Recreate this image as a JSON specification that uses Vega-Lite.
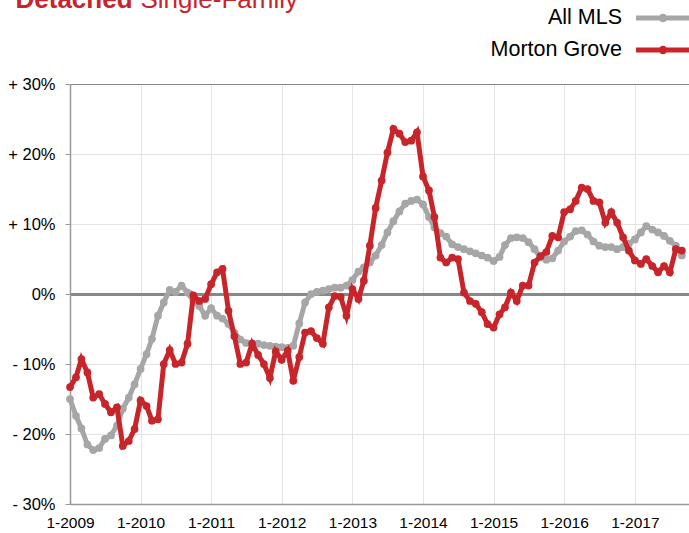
{
  "$schema": "https://vega.github.io/schema/vega-lite/v6.json",
  "width": 619,
  "height": 420,
  "autosize": "none",
  "padding": {"left": 70, "top": 84, "right": 0, "bottom": 29},
  "background": "white",
  "config": {"view": {"stroke": null}, "font": "Liberation Sans"},
  "data": {"values": [
    {"series":"All MLS","month":"2009/01/01","change":-15.0},
    {"series":"All MLS","month":"2009/02/01","change":-17.4},
    {"series":"All MLS","month":"2009/03/01","change":-19.2},
    {"series":"All MLS","month":"2009/04/01","change":-21.5},
    {"series":"All MLS","month":"2009/05/01","change":-22.3},
    {"series":"All MLS","month":"2009/06/01","change":-22.0},
    {"series":"All MLS","month":"2009/07/01","change":-20.7},
    {"series":"All MLS","month":"2009/08/01","change":-20.2},
    {"series":"All MLS","month":"2009/09/01","change":-18.8},
    {"series":"All MLS","month":"2009/10/01","change":-16.4},
    {"series":"All MLS","month":"2009/11/01","change":-14.8},
    {"series":"All MLS","month":"2009/12/01","change":-12.9},
    {"series":"All MLS","month":"2010/01/01","change":-10.7},
    {"series":"All MLS","month":"2010/02/01","change":-8.6},
    {"series":"All MLS","month":"2010/03/01","change":-6.4},
    {"series":"All MLS","month":"2010/04/01","change":-3.1},
    {"series":"All MLS","month":"2010/05/01","change":-1.2},
    {"series":"All MLS","month":"2010/06/01","change":0.6},
    {"series":"All MLS","month":"2010/07/01","change":0.3},
    {"series":"All MLS","month":"2010/08/01","change":1.2},
    {"series":"All MLS","month":"2010/09/01","change":0.2},
    {"series":"All MLS","month":"2010/10/01","change":-1.0},
    {"series":"All MLS","month":"2010/11/01","change":-1.7},
    {"series":"All MLS","month":"2010/12/01","change":-3.1},
    {"series":"All MLS","month":"2011/01/01","change":-2.0},
    {"series":"All MLS","month":"2011/02/01","change":-3.1},
    {"series":"All MLS","month":"2011/03/01","change":-3.5},
    {"series":"All MLS","month":"2011/04/01","change":-4.3},
    {"series":"All MLS","month":"2011/05/01","change":-5.5},
    {"series":"All MLS","month":"2011/06/01","change":-6.5},
    {"series":"All MLS","month":"2011/07/01","change":-7.0},
    {"series":"All MLS","month":"2011/08/01","change":-7.1},
    {"series":"All MLS","month":"2011/09/01","change":-7.1},
    {"series":"All MLS","month":"2011/10/01","change":-7.3},
    {"series":"All MLS","month":"2011/11/01","change":-7.4},
    {"series":"All MLS","month":"2011/12/01","change":-7.5},
    {"series":"All MLS","month":"2012/01/01","change":-7.6},
    {"series":"All MLS","month":"2012/02/01","change":-7.7},
    {"series":"All MLS","month":"2012/03/01","change":-7.4},
    {"series":"All MLS","month":"2012/04/01","change":-4.2},
    {"series":"All MLS","month":"2012/05/01","change":-1.2},
    {"series":"All MLS","month":"2012/06/01","change":0.0},
    {"series":"All MLS","month":"2012/07/01","change":0.3},
    {"series":"All MLS","month":"2012/08/01","change":0.5},
    {"series":"All MLS","month":"2012/09/01","change":0.7},
    {"series":"All MLS","month":"2012/10/01","change":0.9},
    {"series":"All MLS","month":"2012/11/01","change":0.9},
    {"series":"All MLS","month":"2012/12/01","change":1.2},
    {"series":"All MLS","month":"2013/01/01","change":2.0},
    {"series":"All MLS","month":"2013/02/01","change":3.2},
    {"series":"All MLS","month":"2013/03/01","change":3.8},
    {"series":"All MLS","month":"2013/04/01","change":4.5},
    {"series":"All MLS","month":"2013/05/01","change":5.5},
    {"series":"All MLS","month":"2013/06/01","change":7.0},
    {"series":"All MLS","month":"2013/07/01","change":8.8},
    {"series":"All MLS","month":"2013/08/01","change":10.4},
    {"series":"All MLS","month":"2013/09/01","change":11.8},
    {"series":"All MLS","month":"2013/10/01","change":12.9},
    {"series":"All MLS","month":"2013/11/01","change":13.3},
    {"series":"All MLS","month":"2013/12/01","change":13.5},
    {"series":"All MLS","month":"2014/01/01","change":12.8},
    {"series":"All MLS","month":"2014/02/01","change":11.0},
    {"series":"All MLS","month":"2014/03/01","change":9.5},
    {"series":"All MLS","month":"2014/04/01","change":8.7},
    {"series":"All MLS","month":"2014/05/01","change":8.2},
    {"series":"All MLS","month":"2014/06/01","change":7.1},
    {"series":"All MLS","month":"2014/07/01","change":6.7},
    {"series":"All MLS","month":"2014/08/01","change":6.4},
    {"series":"All MLS","month":"2014/09/01","change":6.1},
    {"series":"All MLS","month":"2014/10/01","change":5.8},
    {"series":"All MLS","month":"2014/11/01","change":5.5},
    {"series":"All MLS","month":"2014/12/01","change":5.2},
    {"series":"All MLS","month":"2015/01/01","change":4.7},
    {"series":"All MLS","month":"2015/02/01","change":5.3},
    {"series":"All MLS","month":"2015/03/01","change":7.0},
    {"series":"All MLS","month":"2015/04/01","change":8.0},
    {"series":"All MLS","month":"2015/05/01","change":8.1},
    {"series":"All MLS","month":"2015/06/01","change":8.0},
    {"series":"All MLS","month":"2015/07/01","change":7.4},
    {"series":"All MLS","month":"2015/08/01","change":6.4},
    {"series":"All MLS","month":"2015/09/01","change":5.2},
    {"series":"All MLS","month":"2015/10/01","change":4.9},
    {"series":"All MLS","month":"2015/11/01","change":5.1},
    {"series":"All MLS","month":"2015/12/01","change":6.2},
    {"series":"All MLS","month":"2016/01/01","change":7.5},
    {"series":"All MLS","month":"2016/02/01","change":8.2},
    {"series":"All MLS","month":"2016/03/01","change":9.0},
    {"series":"All MLS","month":"2016/04/01","change":9.1},
    {"series":"All MLS","month":"2016/05/01","change":8.5},
    {"series":"All MLS","month":"2016/06/01","change":7.5},
    {"series":"All MLS","month":"2016/07/01","change":6.9},
    {"series":"All MLS","month":"2016/08/01","change":6.7},
    {"series":"All MLS","month":"2016/09/01","change":6.7},
    {"series":"All MLS","month":"2016/10/01","change":6.4},
    {"series":"All MLS","month":"2016/11/01","change":6.7},
    {"series":"All MLS","month":"2016/12/01","change":7.2},
    {"series":"All MLS","month":"2017/01/01","change":7.8},
    {"series":"All MLS","month":"2017/02/01","change":8.8},
    {"series":"All MLS","month":"2017/03/01","change":9.7},
    {"series":"All MLS","month":"2017/04/01","change":9.2},
    {"series":"All MLS","month":"2017/05/01","change":8.8},
    {"series":"All MLS","month":"2017/06/01","change":8.3},
    {"series":"All MLS","month":"2017/07/01","change":7.6},
    {"series":"All MLS","month":"2017/08/01","change":6.9},
    {"series":"All MLS","month":"2017/09/01","change":5.5},
    {"series":"Morton Grove","month":"2009/01/01","change":-13.3},
    {"series":"Morton Grove","month":"2009/02/01","change":-11.9},
    {"series":"Morton Grove","month":"2009/03/01","change":-9.3},
    {"series":"Morton Grove","month":"2009/04/01","change":-11.2},
    {"series":"Morton Grove","month":"2009/05/01","change":-14.8},
    {"series":"Morton Grove","month":"2009/06/01","change":-14.3},
    {"series":"Morton Grove","month":"2009/07/01","change":-15.7},
    {"series":"Morton Grove","month":"2009/08/01","change":-16.9},
    {"series":"Morton Grove","month":"2009/09/01","change":-16.2},
    {"series":"Morton Grove","month":"2009/10/01","change":-21.7},
    {"series":"Morton Grove","month":"2009/11/01","change":-21.0},
    {"series":"Morton Grove","month":"2009/12/01","change":-19.3},
    {"series":"Morton Grove","month":"2010/01/01","change":-15.2},
    {"series":"Morton Grove","month":"2010/02/01","change":-16.0},
    {"series":"Morton Grove","month":"2010/03/01","change":-18.1},
    {"series":"Morton Grove","month":"2010/04/01","change":-17.9},
    {"series":"Morton Grove","month":"2010/05/01","change":-10.0},
    {"series":"Morton Grove","month":"2010/06/01","change":-8.0},
    {"series":"Morton Grove","month":"2010/07/01","change":-10.0},
    {"series":"Morton Grove","month":"2010/08/01","change":-9.8},
    {"series":"Morton Grove","month":"2010/09/01","change":-7.1},
    {"series":"Morton Grove","month":"2010/10/01","change":-0.2},
    {"series":"Morton Grove","month":"2010/11/01","change":-1.0},
    {"series":"Morton Grove","month":"2010/12/01","change":-0.7},
    {"series":"Morton Grove","month":"2011/01/01","change":1.4},
    {"series":"Morton Grove","month":"2011/02/01","change":3.1},
    {"series":"Morton Grove","month":"2011/03/01","change":3.6},
    {"series":"Morton Grove","month":"2011/04/01","change":-2.4},
    {"series":"Morton Grove","month":"2011/05/01","change":-6.0},
    {"series":"Morton Grove","month":"2011/06/01","change":-10.0},
    {"series":"Morton Grove","month":"2011/07/01","change":-9.8},
    {"series":"Morton Grove","month":"2011/08/01","change":-7.1},
    {"series":"Morton Grove","month":"2011/09/01","change":-8.7},
    {"series":"Morton Grove","month":"2011/10/01","change":-10.0},
    {"series":"Morton Grove","month":"2011/11/01","change":-12.0},
    {"series":"Morton Grove","month":"2011/12/01","change":-8.2},
    {"series":"Morton Grove","month":"2012/01/01","change":-9.4},
    {"series":"Morton Grove","month":"2012/02/01","change":-8.1},
    {"series":"Morton Grove","month":"2012/03/01","change":-12.4},
    {"series":"Morton Grove","month":"2012/04/01","change":-9.0},
    {"series":"Morton Grove","month":"2012/05/01","change":-5.5},
    {"series":"Morton Grove","month":"2012/06/01","change":-5.3},
    {"series":"Morton Grove","month":"2012/07/01","change":-6.3},
    {"series":"Morton Grove","month":"2012/08/01","change":-7.1},
    {"series":"Morton Grove","month":"2012/09/01","change":-1.9},
    {"series":"Morton Grove","month":"2012/10/01","change":-0.3},
    {"series":"Morton Grove","month":"2012/11/01","change":-0.4},
    {"series":"Morton Grove","month":"2012/12/01","change":-3.1},
    {"series":"Morton Grove","month":"2013/01/01","change":0.7},
    {"series":"Morton Grove","month":"2013/02/01","change":-0.7},
    {"series":"Morton Grove","month":"2013/03/01","change":1.9},
    {"series":"Morton Grove","month":"2013/04/01","change":6.9},
    {"series":"Morton Grove","month":"2013/05/01","change":12.3},
    {"series":"Morton Grove","month":"2013/06/01","change":16.2},
    {"series":"Morton Grove","month":"2013/07/01","change":20.2},
    {"series":"Morton Grove","month":"2013/08/01","change":23.6},
    {"series":"Morton Grove","month":"2013/09/01","change":22.9},
    {"series":"Morton Grove","month":"2013/10/01","change":21.7},
    {"series":"Morton Grove","month":"2013/11/01","change":21.9},
    {"series":"Morton Grove","month":"2013/12/01","change":23.1},
    {"series":"Morton Grove","month":"2014/01/01","change":16.8},
    {"series":"Morton Grove","month":"2014/02/01","change":14.8},
    {"series":"Morton Grove","month":"2014/03/01","change":11.0},
    {"series":"Morton Grove","month":"2014/04/01","change":5.2},
    {"series":"Morton Grove","month":"2014/05/01","change":4.5},
    {"series":"Morton Grove","month":"2014/06/01","change":5.2},
    {"series":"Morton Grove","month":"2014/07/01","change":5.0},
    {"series":"Morton Grove","month":"2014/08/01","change":0.2},
    {"series":"Morton Grove","month":"2014/09/01","change":-1.0},
    {"series":"Morton Grove","month":"2014/10/01","change":-1.4},
    {"series":"Morton Grove","month":"2014/11/01","change":-2.6},
    {"series":"Morton Grove","month":"2014/12/01","change":-4.3},
    {"series":"Morton Grove","month":"2015/01/01","change":-4.8},
    {"series":"Morton Grove","month":"2015/02/01","change":-2.9},
    {"series":"Morton Grove","month":"2015/03/01","change":-1.9},
    {"series":"Morton Grove","month":"2015/04/01","change":0.2},
    {"series":"Morton Grove","month":"2015/05/01","change":-1.0},
    {"series":"Morton Grove","month":"2015/06/01","change":1.2},
    {"series":"Morton Grove","month":"2015/07/01","change":1.2},
    {"series":"Morton Grove","month":"2015/08/01","change":4.5},
    {"series":"Morton Grove","month":"2015/09/01","change":5.4},
    {"series":"Morton Grove","month":"2015/10/01","change":6.0},
    {"series":"Morton Grove","month":"2015/11/01","change":8.3},
    {"series":"Morton Grove","month":"2015/12/01","change":8.1},
    {"series":"Morton Grove","month":"2016/01/01","change":11.7},
    {"series":"Morton Grove","month":"2016/02/01","change":12.1},
    {"series":"Morton Grove","month":"2016/03/01","change":13.3},
    {"series":"Morton Grove","month":"2016/04/01","change":15.2},
    {"series":"Morton Grove","month":"2016/05/01","change":15.0},
    {"series":"Morton Grove","month":"2016/06/01","change":13.3},
    {"series":"Morton Grove","month":"2016/07/01","change":13.1},
    {"series":"Morton Grove","month":"2016/08/01","change":10.2},
    {"series":"Morton Grove","month":"2016/09/01","change":11.7},
    {"series":"Morton Grove","month":"2016/10/01","change":10.2},
    {"series":"Morton Grove","month":"2016/11/01","change":8.1},
    {"series":"Morton Grove","month":"2016/12/01","change":6.2},
    {"series":"Morton Grove","month":"2017/01/01","change":4.8},
    {"series":"Morton Grove","month":"2017/02/01","change":4.3},
    {"series":"Morton Grove","month":"2017/03/01","change":5.0},
    {"series":"Morton Grove","month":"2017/04/01","change":4.0},
    {"series":"Morton Grove","month":"2017/05/01","change":3.1},
    {"series":"Morton Grove","month":"2017/06/01","change":4.0},
    {"series":"Morton Grove","month":"2017/07/01","change":3.1},
    {"series":"Morton Grove","month":"2017/08/01","change":6.4},
    {"series":"Morton Grove","month":"2017/09/01","change":6.2}
  ]},
  "encoding": {
    "x": {
      "field": "month", "type": "temporal",
      "scale": {"domain": [{"year": 2009, "month": 1, "date": 1}, {"year": 2017, "month": 10, "date": 8}], "nice": false},
      "axis": {
        "title": "Single-Family", "titleFont": "Liberation Sans", "titleFontSize": 26, "titleFontWeight": "normal",
        "titleColor": "#c8252b", "titleAlign": "left", "titleBaseline": "alphabetic", "titleAngle": 0,
        "titleX": 70, "titleY": -497,
        "format": "%-m-%Y", "tickCount": {"interval": "year", "step": 1},
        "labelFont": "Liberation Sans", "labelFontSize": 15.5, "labelColor": "#000000",
        "labelPadding": 11, "ticks": false, "tickSize": 0, "labelFlush": false,
        "domainColor": "#999999", "domainWidth": 1.5, "gridColor": "#e3e3e3", "gridWidth": 1
      }
    },
    "y": {
      "field": "change", "type": "quantitative",
      "scale": {"domain": [-30, 30], "nice": false, "zero": false},
      "axis": {
        "title": "Detached", "titleFont": "Liberation Sans", "titleFontSize": 26, "titleFontWeight": "bold",
        "titleColor": "#c8252b", "titleAlign": "left", "titleBaseline": "alphabetic", "titleAngle": 0,
        "titleX": -55, "titleY": -77,
        "values": [-30, -20, -10, 0, 10, 20, 30],
        "labelExpr": "datum.value > 0 ? '+ ' + datum.value + '%' : (datum.value < 0 ? '- ' + abs(datum.value) + '%' : '0%')",
        "labelFont": "Liberation Sans", "labelFontSize": 16.5, "labelColor": "#000000",
        "labelPadding": 10, "tickSize": 5, "tickColor": "#999999", "tickWidth": 1,
        "domainColor": "#999999", "domainWidth": 1.5,
        "gridColor": {"condition": {"test": "datum.value === 0 || datum.value === 30", "value": "#888888"}, "value": "#e3e3e3"},
        "gridWidth": {"condition": {"test": "datum.value === 0", "value": 3}, "value": 1}
      }
    },
    "color": {
      "field": "series", "type": "nominal",
      "scale": {"domain": ["All MLS", "Morton Grove"], "range": ["#a6a6a6", "#c8252b"]},
      "legend": {
        "orient": "none", "legendX": 427, "legendY": -82, "title": null, "padding": 0,
        "symbolType": "M-2,0L2,0M0.13,0A0.13,0.13,0,1,1,-0.13,0A0.13,0.13,0,1,1,0.13,0",
        "symbolSize": 729, "symbolStrokeWidth": 5, "symbolOffset": 150,
        "rowPadding": 4, "labelAlign": "right", "labelBaseline": "middle",
        "labelFont": "Liberation Sans", "labelFontSize": 21.5, "labelColor": "#000000", "labelLimit": 300,
        "symbolOpacity": 1,
        "encode": {"labels": {"update": {"x": {"value": 125}, "align": {"value": "right"}}}}
      }
    }
  },
  "layer": [
    {
      "transform": [{"filter": "datum.series === 'All MLS'"}],
      "mark": {"type": "line", "strokeWidth": 5, "point": {"filled": true, "size": 60, "opacity": 1}}
    },
    {
      "transform": [{"filter": "datum.series === 'Morton Grove'"}],
      "mark": {"type": "line", "strokeWidth": 5, "point": {"filled": true, "size": 60, "opacity": 1}}
    }
  ]
}
